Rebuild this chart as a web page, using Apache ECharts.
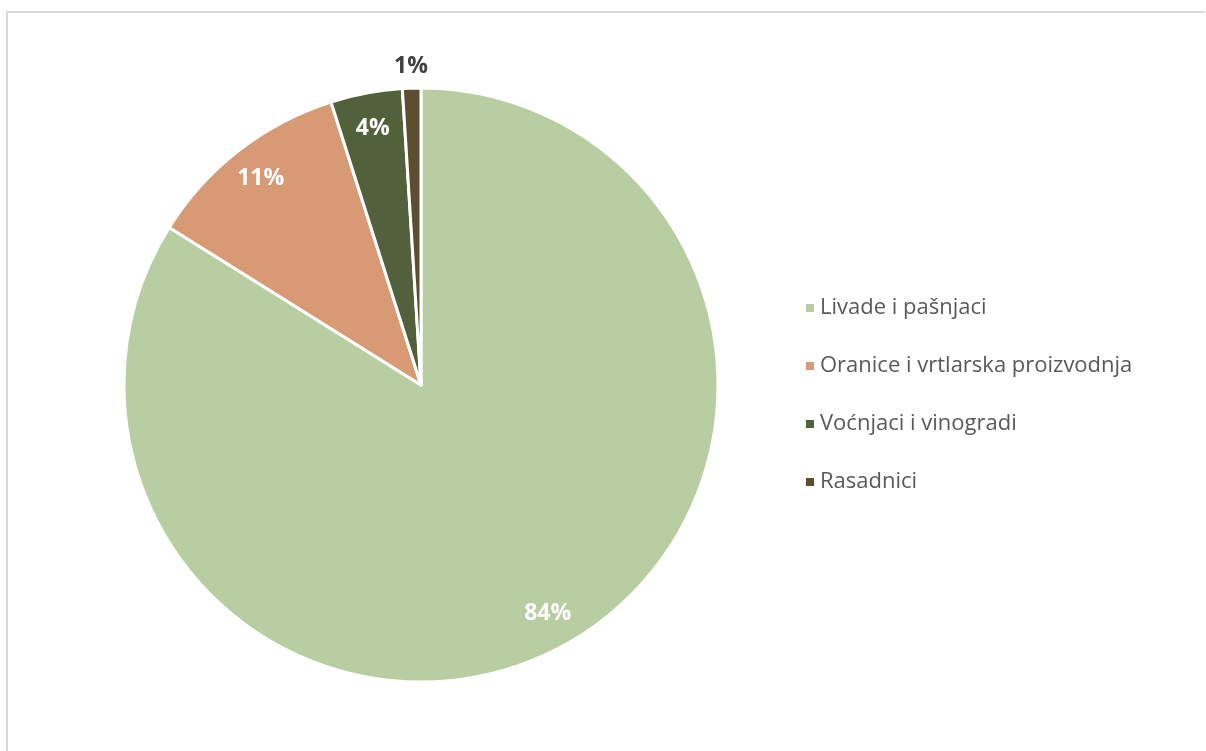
<!DOCTYPE html>
<html>
<head>
<meta charset="utf-8">
<script src="https://cdn.jsdelivr.net/npm/echarts@6/dist/echarts.min.js"></script>
<style>
html,body{margin:0;padding:0;background:#fff;}
#c{width:1206px;height:751px;}
</style>
</head>
<body>
<div id="c"></div>
<script>
const categories = ['Livade i pašnjaci', 'Oranice i vrtlarska proizvodnja', 'Voćnjaci i vinogradi', 'Rasadnici'];
const values = [83.9, 11.2, 3.9, 1.0];
const colors = ['#B9CDA2', '#D79A75', '#52613B', '#5E4E30'];
const outsideLabel = [false, false, false, true];

const total = values.reduce((a, b) => a + b, 0);
const pctText = v => Math.round(v / total * 100) + '%';

const center = [421, 385];
const R = 297;

const baseData = categories.map((name, i) => ({ name, value: values[i], itemStyle: { color: colors[i] } }));
const innerLabelData = categories.map((name, i) => ({
  name, value: values[i],
  itemStyle: { color: 'rgba(0,0,0,0)' },
  label: { show: !outsideLabel[i] }
}));
const outerLabelData = categories.map((name, i) => ({
  name, value: values[i],
  itemStyle: { color: 'rgba(0,0,0,0)' },
  label: { show: outsideLabel[i] }
}));

const chart = echarts.init(document.getElementById('c'), null, { renderer: 'canvas' });
chart.setOption({
  backgroundColor: '#fff',
  animation: false,
  graphic: [
    { type: 'line', shape: { x1: 6, y1: 12, x2: 1205, y2: 12 }, style: { stroke: '#D9D9D9', lineWidth: 2 } },
    { type: 'line', shape: { x1: 7, y1: 11, x2: 7, y2: 751 }, style: { stroke: '#D9D9D9', lineWidth: 2 } }
  ],
  legend: {
    orient: 'vertical',
    left: 799,
    top: 291,
    icon: 'rect',
    itemWidth: 10,
    itemHeight: 10,
    itemGap: 34,
    data: categories,
    textStyle: { fontFamily: 'Open Sans', fontSize: 22, color: '#595959', lineHeight: 24, padding: [0, 0, 0, 0] }
  },
  series: [
    {
      type: 'pie',
      center: center,
      radius: [0, R],
      startAngle: 90,
      clockwise: true,
      silent: true,
      label: { show: false },
      labelLine: { show: false },
      itemStyle: { borderColor: '#fff', borderWidth: 3 },
      data: baseData
    },
    {
      type: 'pie',
      center: center,
      radius: [220, R],
      startAngle: 90,
      clockwise: true,
      silent: true,
      legendHoverLink: false,
      label: {
        position: 'inside',
        formatter: p => pctText(p.value),
        color: '#fff',
        fontFamily: 'Open Sans',
        fontWeight: 'bold',
        fontSize: 23
      },
      labelLine: { show: false },
      data: innerLabelData
    },
    {
      type: 'pie',
      center: center,
      radius: [R, 335],
      startAngle: 90,
      clockwise: true,
      silent: true,
      legendHoverLink: false,
      label: {
        position: 'inside',
        formatter: p => pctText(p.value),
        color: '#404040',
        fontFamily: 'Open Sans',
        fontWeight: 'bold',
        fontSize: 23
      },
      labelLine: { show: false },
      data: outerLabelData
    }
  ]
});
</script>
</body>
</html>
